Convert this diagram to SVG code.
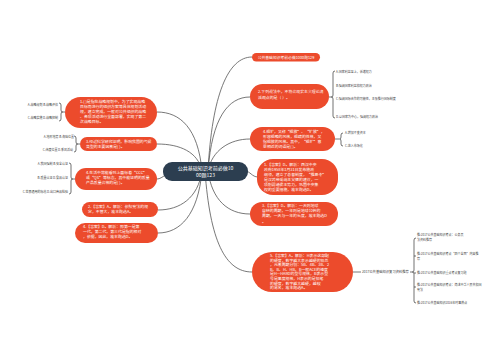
<svg xmlns="http://www.w3.org/2000/svg" width="500" height="360" viewBox="0 0 500 360">
<style>
.n{fill:#ec4b2c}
.c{fill:#2c3e50}
.t{font-family:"Noto Sans CJK SC","Noto Sans",sans-serif;font-size:3.9px;fill:#ffffff}
.ct{font-family:"Noto Sans CJK SC","Noto Sans",sans-serif;font-size:5px;fill:#ffffff}
.l{font-family:"Noto Sans CJK SC","Noto Sans",sans-serif;font-size:3px;fill:#444444}
.e{fill:none;stroke:#555555;stroke-width:0.8}
.b{fill:none;stroke:#333333;stroke-width:0.7}
</style>
<rect width="500" height="360" fill="#ffffff"/>
<g id="connectors">
<path class="e" d="M208,171 C212,95 228,57 252,57"/>
<path class="e" d="M208,171 C212,118 228,97 250,97"/>
<path class="e" d="M208,171 C212,150 230,139 250,139"/>
<path class="e" d="M245,171 C250,171 252,177 258,177"/>
<path class="e" d="M208,171 C212,200 228,214 250,214"/>
<path class="e" d="M205,171 C210,240 225,272 252,272"/>
<path class="e" d="M202,171 C198,128 180,112 157,112"/>
<path class="e" d="M202,171 C198,152 180,144 157,144"/>
<path class="e" d="M166,175 C162,177 160,179 157,179"/>
<path class="e" d="M202,171 C198,198 180,210 158,210"/>
<path class="e" d="M202,171 C198,215 180,233 158,233"/>
<path class="e" d="M65,112 L62,112"/>
<path class="e" d="M80,144 L77,144"/>
<path class="e" d="M75,179 L72,179"/>
<path class="e" d="M329,97 L332,97"/>
<path class="e" d="M335,139 L339,139"/>
<path class="e" d="M353,272 L361,272"/>
<path class="e" d="M410,272 L413,272"/>
<path class="b" d="M59,103 Q61,103 61,105 L61,110 Q61,112 62.5,112 Q61,112 61,114 L61,119 Q61,121 59,121"/>
<path class="b" d="M74,136 Q76,136 76,138 L76,142 Q76,144 77.5,144 Q76,144 76,146 L76,150 Q76,152 74,152"/>
<path class="b" d="M69,163 Q71,163 71,165 L71,177 Q71,179 72.5,179 Q71,179 71,181 L71,192 Q71,194 69,194"/>
<path class="b" d="M335,71 Q333,71 333,73 L333,95 Q333,97 331.5,97 Q333,97 333,99 L333,116 Q333,118 335,118"/>
<path class="b" d="M343,133 Q341,133 341,135 L341,137 Q341,139 339.5,139 Q341,139 341,141 L341,144 Q341,146 343,146"/>
<path class="b" d="M416,238 Q414,238 414,240 L414,270 Q414,272 412.5,272 Q414,272 414,274 L414,301 Q414,303 416,303"/>
<path class="b" d="M414,256 L416,256 M414,273 L416,273 M414,287 L416,287"/>
</g>
<g id="center">
<rect class="c" x="163" y="162" width="85" height="19" rx="9"/>
<text class="ct" x="205.5" y="170" text-anchor="middle">公共基础知识考前必做10</text>
<text class="ct" x="205.5" y="177" text-anchor="middle">00题123</text>
</g>
<g id="top">
<rect class="n" x="252" y="53" width="68" height="8.5" rx="4.2"/>
<text class="t" x="286" y="58.6" text-anchor="middle" style="font-size:3.8px">公共基础知识考前必做1000题129</text>
</g>
<g id="r2">
<rect class="n" x="250" y="84" width="79" height="25" rx="12.5"/>
<text class="t" x="258" y="93">2.下列说法中，不符合现实主义理论流</text>
<text class="t" x="258" y="99">派观点的是（  ）。</text>
</g>
<g id="r2-leaves">
<text class="l" x="336" y="73">A.国家利益至上，诉诸权力</text>
<text class="l" x="336" y="87">B.强调国家利益和权力政治</text>
<text class="l" x="336" y="100">C.强调国际合作的可能性，主张推行国际制度</text>
<text class="l" x="336" y="118">D.以国家为中心，强调权力政治</text>
</g>
<g id="r4">
<rect class="n" x="250" y="127" width="85" height="24" rx="12"/>
<text class="t" x="263" y="132.5">4.粗犷，又称“粗放”、“犷放”，</text>
<text class="t" x="263" y="137.5">形容粗略的风格，粗疏的性格，又</text>
<text class="t" x="263" y="142.5">指粗放的风格。其中，“粗犷”意</text>
<text class="t" x="263" y="147.5">思相近的词语是(  )。</text>
</g>
<g id="r4-leaves">
<text class="l" x="345" y="134">A.增加不变资本</text>
<text class="l" x="345" y="147">C.进入市场化</text>
</g>
<g id="r1">
<rect class="n" x="257" y="159" width="81" height="36" rx="16"/>
<text class="t" x="264" y="166">1.【答案】D。解析：西汉中央</text>
<text class="t" x="264" y="171">政府1958年1月31日发布施政</text>
<text class="t" x="264" y="176">纲领，建立了总督制度，“推恩令”</text>
<text class="t" x="264" y="181">是汉武帝采纳主父偃的建议，一</text>
<text class="t" x="264" y="186">项削弱诸侯王势力，巩固中央集</text>
<text class="t" x="264" y="191">权的重要措施，故本题选D。</text>
</g>
<g id="r3">
<rect class="n" x="250" y="202" width="88" height="24" rx="12"/>
<text class="t" x="262" y="207">3.【答案】D。解析：一天则地球</text>
<text class="t" x="262" y="212">自转的周期，一年则是地球公转的</text>
<text class="t" x="262" y="217">周期，一天与一年的长度，故本题选D</text>
<text class="t" x="262" y="222.5">。</text>
</g>
<g id="r5">
<rect class="n" x="252" y="252" width="101" height="40" rx="20"/>
<text class="t" x="270" y="257">5.【答案】A。解析：H表示这部配</text>
<text class="t" x="270" y="261.6">的硬度，数字越大表示越硬的铅芯</text>
<text class="t" x="270" y="266.2">，元素周期分别：5B、4B、3B、2</text>
<text class="t" x="270" y="270.8">B、B、H、HB、B一般ACE的速度</text>
<text class="t" x="270" y="275.4">是H—HARD的型号规格，B表示型</text>
<text class="t" x="270" y="280">号是黑度规格，H表示的是铅笔</text>
<text class="t" x="270" y="284.6">的硬度，数字越大越硬，越软</text>
<text class="t" x="270" y="289.2">的易名，故本题选A。</text>
</g>
<g id="r5-sub">
<text class="l" x="362" y="273" style="font-size:3.3px">2017公共基础知识复习资料推荐</text>
</g>
<g id="r5-leaves">
<text class="l" x="417" y="236">推:2017公共基础知识考点：公务员</text>
<text class="l" x="417" y="241">法资料推荐</text>
<text class="l" x="417" y="255">推:2017公共基础知识考点“四个全面”内容推</text>
<text class="l" x="417" y="260">荐</text>
<text class="l" x="417" y="274">推:2017公共基础知识重点考点复习题</text>
<text class="l" x="417" y="286">推:2017公共基础知识考点：简述中华人民共和国</text>
<text class="l" x="417" y="291">宪法</text>
<text class="l" x="417" y="304">推:2017公共基础知识2016年时事热点</text>
</g>
<g id="l1">
<rect class="n" x="65" y="97" width="92" height="31" rx="15.5"/>
<text class="t" x="80" y="103">1.( )是指在战略规划中，为了实现战略</text>
<text class="t" x="80" y="108">目标而进行的组织方案等具体规划活动</text>
<text class="t" x="80" y="113">规，建立完成，一般对公共组织的战略</text>
<text class="t" x="80" y="118">、各项活动进行全面部署，实现了第二</text>
<text class="t" x="80" y="123">次战略目标。</text>
</g>
<g id="l1-leaves">
<text class="l" x="58" y="106" text-anchor="end">A.战略规划 B.战略评估</text>
<text class="l" x="58" y="119" text-anchor="end">C.战略实施 D.战略控制</text>
</g>
<g id="l2">
<rect class="n" x="80" y="137" width="77" height="14" rx="7"/>
<text class="t" x="86" y="142.5">3.经过科学研究证明，影响我国的气候</text>
<text class="t" x="86" y="147.5">类型的主要因素是(  )。</text>
</g>
<g id="l2-leaves">
<text class="l" x="74" y="138" text-anchor="end">A.地形地势 B.海陆位置</text>
<text class="l" x="73" y="151" text-anchor="end">C.纬度位置 D.季风活动</text>
</g>
<g id="l3">
<rect class="n" x="75" y="168" width="82" height="22" rx="11"/>
<text class="t" x="86" y="173.5">4.生活中常能看到上面标着“CCC”</text>
<text class="t" x="86" y="178.5">或“QS”等标志，其中能证明的质量</text>
<text class="t" x="86" y="183.5">产品质量合格的是(  )。</text>
</g>
<g id="l3-leaves">
<text class="l" x="68" y="165" text-anchor="end">A.我国强制 B.安全认证</text>
<text class="l" x="68" y="179" text-anchor="end">B.质量认证 D.食品认证</text>
<text class="l" x="68" y="193" text-anchor="end">C.世界通用的标志 D.出口商品检验</text>
</g>
<g id="l4">
<rect class="n" x="82" y="202" width="76" height="15" rx="7.5"/>
<text class="t" x="88" y="207.5">2.【答案】A。解析：依照宪法的规</text>
<text class="t" x="88" y="212.5">定，不管大，故本题选A。</text>
</g>
<g id="l5">
<rect class="n" x="75" y="223" width="83" height="20" rx="10"/>
<text class="t" x="83" y="228">4.【答案】D。解析：即第一是第</text>
<text class="t" x="83" y="233">一代，第二代，第三代是指的相对</text>
<text class="t" x="83" y="238">，依据，因此，故本题选D。</text>
</g>
</svg>
